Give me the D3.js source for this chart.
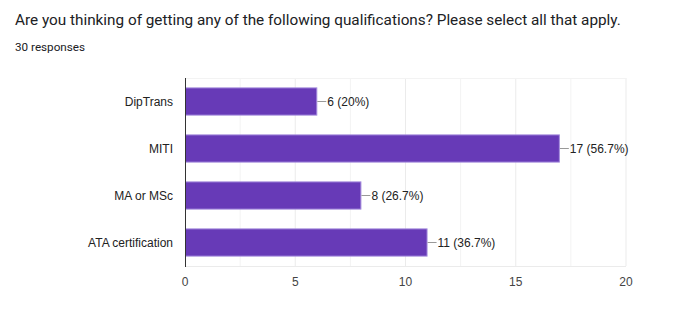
<!DOCTYPE html>
<html>
<head>
<meta charset="utf-8">
<script src="https://cdn.jsdelivr.net/npm/d3@7"></script>
<style>
  body { margin: 0; background: #fff; }
  svg { display: block; }
</style>
</head>
<body>
<script>
// data
const categories = ["DipTrans", "MITI", "MA or MSc", "ATA certification"];
const counts = [6, 17, 8, 11];
const percents = ["20%", "56.7%", "26.7%", "36.7%"];
const xTicks = [0, 5, 10, 15, 20];
const title = "Are you thinking of getting any of the following qualifications? Please select all that apply.";
const subtitle = "30 responses";

const width = 698, height = 319;
const margin = { top: 78, right: 72, bottom: 53, left: 185 };

const svg = d3.select("body").append("svg")
  .attr("width", width)
  .attr("height", height);

svg.append("text")
  .attr("x", 15).attr("y", 25)
  .attr("font-family", "Roboto, Arial, sans-serif")
  .attr("font-size", 15.3)
  .attr("fill", "#202124")
  .text(title);

svg.append("text")
  .attr("x", 15).attr("y", 51)
  .attr("font-family", "Roboto, Arial, sans-serif")
  .attr("font-size", 11.7)
  .attr("fill", "#202124")
  .text(subtitle);

const x = d3.scaleLinear()
  .domain([0, 20])
  .range([margin.left, width - margin.right]);

const y = d3.scaleBand()
  .domain(categories)
  .range([margin.top, height - margin.bottom])
  .paddingInner(0.4)
  .paddingOuter(0.2);

const g = svg.append("g");

// minor gridlines
g.append("g")
  .selectAll("line")
  .data(d3.range(2.5, 20, 5))
  .join("line")
  .attr("x1", d => x(d)).attr("x2", d => x(d))
  .attr("y1", margin.top).attr("y2", height - margin.bottom)
  .attr("stroke", "#f3f3f3");

// major gridlines
g.append("g")
  .selectAll("line")
  .data(xTicks.slice(1))
  .join("line")
  .attr("x1", d => x(d)).attr("x2", d => x(d))
  .attr("y1", margin.top).attr("y2", height - margin.bottom)
  .attr("stroke", "#ebebeb");

// top & bottom frame lines
g.append("line")
  .attr("x1", margin.left).attr("x2", x(20))
  .attr("y1", margin.top + 0.5).attr("y2", margin.top + 0.5)
  .attr("stroke", "#f3f3f3");
g.append("line")
  .attr("x1", margin.left).attr("x2", x(20))
  .attr("y1", height - margin.bottom + 0.5).attr("y2", height - margin.bottom + 0.5)
  .attr("stroke", "#ebebeb");

// x tick labels
g.append("g")
  .selectAll("text")
  .data(xTicks)
  .join("text")
  .attr("x", d => x(d))
  .attr("y", height - margin.bottom + 20)
  .attr("text-anchor", "middle")
  .attr("font-family", "Arial, 'Liberation Sans', sans-serif")
  .attr("font-size", 12)
  .attr("fill", "#444")
  .text(d => d);

// bars
g.append("g")
  .selectAll("rect")
  .data(categories)
  .join("rect")
  .attr("x", x(0) + 0.5)
  .attr("y", d => y(d) + 0.5)
  .attr("width", (d, i) => x(counts[i]) - x(0) - 1)
  .attr("height", y.bandwidth() - 1)
  .attr("fill", "#673ab7")
  .attr("stroke", "#a48bdc")
  .attr("stroke-width", 1);

// category labels
g.append("g")
  .selectAll("text")
  .data(categories)
  .join("text")
  .attr("x", margin.left - 12)
  .attr("y", d => y(d) + y.bandwidth() / 2)
  .attr("dy", "0.35em")
  .attr("text-anchor", "end")
  .attr("font-family", "Arial, 'Liberation Sans', sans-serif")
  .attr("font-size", 12)
  .attr("fill", "#222")
  .text(d => d);

// leader lines + value labels
const ann = g.append("g")
  .selectAll("g")
  .data(categories)
  .join("g");

ann.append("line")
  .attr("x1", (d, i) => x(counts[i]))
  .attr("x2", (d, i) => x(counts[i]) + 9)
  .attr("y1", d => Math.round(y(d) + y.bandwidth() / 2) + 0.5)
  .attr("y2", d => Math.round(y(d) + y.bandwidth() / 2) + 0.5)
  .attr("stroke", "#999");

ann.append("text")
  .attr("x", (d, i) => x(counts[i]) + 10)
  .attr("y", d => y(d) + y.bandwidth() / 2)
  .attr("dy", "0.35em")
  .attr("font-family", "Arial, 'Liberation Sans', sans-serif")
  .attr("font-size", 12)
  .attr("fill", "#222")
  .text((d, i) => `${counts[i]} (${percents[i]})`);

// axis line
g.append("line")
  .attr("x1", margin.left + 0.5).attr("x2", margin.left + 0.5)
  .attr("y1", margin.top).attr("y2", height - margin.bottom + 1)
  .attr("stroke", "#333");
</script>
</body>
</html>
